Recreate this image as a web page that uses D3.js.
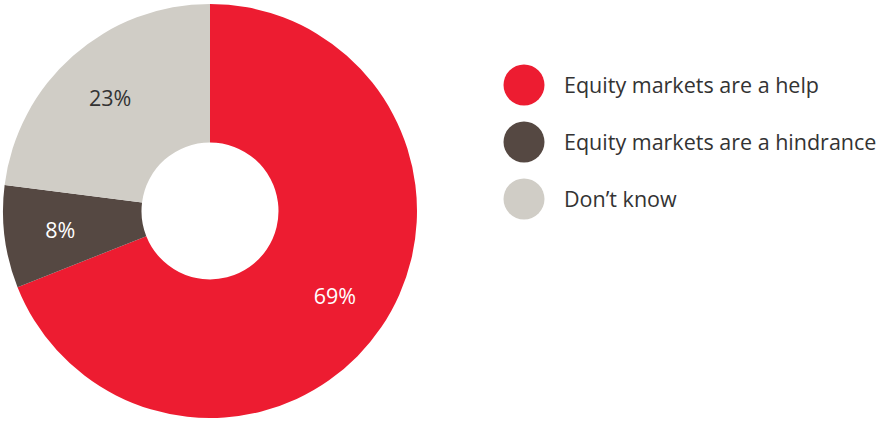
<!DOCTYPE html>
<html>
<head>
<meta charset="utf-8">
<script src="https://cdn.jsdelivr.net/npm/d3@7"></script>
<style>
  html, body { margin: 0; padding: 0; background: #fff; }
  svg { display: block; }
  text { font-family: "Open Sans", "Noto Sans", sans-serif; }
</style>
</head>
<body>
<svg id="chart" width="881" height="421"></svg>
<script>
// Survey answers
const categories = ["Equity markets are a help", "Equity markets are a hindrance", "Don\u2019t know"];
const shares = [69, 8, 23];
const sliceColors = ["#ED1C31", "#554842", "#D0CDC6"];
const labelColors = ["#ffffff", "#ffffff", "#333333"];

const svg = d3.select("#chart");
const cx = 210, cy = 211;
const outerR = 207, innerR = 68.5, labelR = 151;

const data = categories.map((c, i) => ({ name: c, value: shares[i], color: sliceColors[i], labelColor: labelColors[i] }));

const pie = d3.pie().value(d => d.value).sort(null);
const arc = d3.arc().innerRadius(innerR).outerRadius(outerR);
const labelArc = d3.arc().innerRadius(labelR).outerRadius(labelR);

const g = svg.append("g").attr("transform", `translate(${cx},${cy})`);
const arcs = pie(data);

g.selectAll("path.slice")
  .data(arcs)
  .join("path")
  .attr("class", "slice")
  .attr("d", arc)
  .attr("fill", d => d.data.color);

g.selectAll("text.pct")
  .data(arcs)
  .join("text")
  .attr("class", "pct")
  .attr("transform", d => `translate(${labelArc.centroid(d)})`)
  .attr("text-anchor", "middle")
  .attr("dominant-baseline", "central")
  .attr("font-size", 21.5)
  .attr("fill", d => d.data.labelColor)
  .text(d => d.data.value + "%");

// Legend
const legend = svg.append("g").attr("transform", "translate(524,85)");
const row = legend.selectAll("g.row")
  .data(data)
  .join("g")
  .attr("class", "row")
  .attr("transform", (d, i) => `translate(0,${i * 57})`);

row.append("circle")
  .attr("r", 20.5)
  .attr("fill", d => d.color);

row.append("text")
  .attr("x", 40)
  .attr("y", 7.5)
  .attr("font-size", 21.5)
  .attr("fill", "#333333")
  .text(d => d.name);
</script>
</body>
</html>
